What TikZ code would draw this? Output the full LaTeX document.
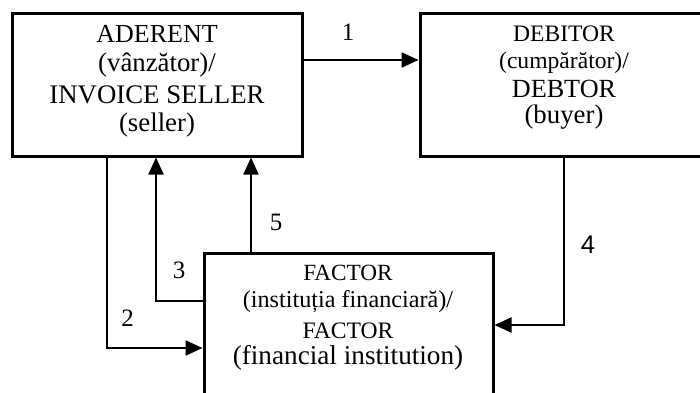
\documentclass[tikz,border=0pt]{standalone}
\usepackage{fontspec}
\setmainfont{Liberation Serif}
\newfontfamily\labelsans{Liberation Sans}
\usetikzlibrary{arrows.meta}
\begin{document}
\begin{tikzpicture}[x=0.5pt,y=-0.5pt,
  box/.style={draw, line width=1.5pt, rectangle, inner sep=0pt},
  link/.style={line width=1.15pt},
  arr/.style={link, -{Triangle[length=8.5pt,width=7.5pt]}},
  txt/.style={anchor=base, inner sep=0pt},
  big/.style={font=\fontsize{13.4}{16}\selectfont},
  mid/.style={font=\fontsize{11.8}{14}\selectfont},
  num/.style={inner sep=0pt, font=\fontsize{12.5}{15}\selectfont},
]
\useasboundingbox (0,0) rectangle (700,392);

% the three parties
\node[box, minimum width=145pt, minimum height=71.5pt] (ad) at (157,84.5) {};
\node[box, minimum width=145pt, minimum height=71.5pt] (deb) at (565,84.5) {};
\node[box, minimum width=144.5pt, minimum height=73.5pt] (fac) at (348.5,326.5) {};

% box captions
\node[txt, font=\fontsize{13}{16}\selectfont] (a1) at (157,42) {ADERENT};
\node[txt, big] (a2) at (157,71) {(vânzător)/};
\node[txt, big] (a3) at (157,103) {INVOICE SELLER};
\node[txt, big] (a4) at (157,131) {(seller)};

\node[txt, mid] (d1) at (564,41) {DEBITOR};
\node[txt, mid] (d2) at (564,68) {(cumpărător)/};
\node[txt, font=\fontsize{13.1}{16}\selectfont] (d3) at (564,97) {DEBTOR};
\node[txt, big] (d4) at (564,123) {(buyer)};

\node[txt, font=\fontsize{11.6}{14}\selectfont] (f1) at (348,280) {FACTOR};
\node[txt, font=\fontsize{12.1}{14}\selectfont] (f2) at (348,307) {(instituția financiară)/};
\node[txt, font=\fontsize{11.8}{14}\selectfont] (f3) at (348,338) {FACTOR};
\node[txt, font=\fontsize{13.6}{16}\selectfont] (f4) at (348,364) {(financial institution)};

% routing guides
\coordinate (r1) at (0,60);
\coordinate (r2) at (0,348);
\coordinate (r3) at (0,301);
\coordinate (r4) at (0,325);
\coordinate (c2) at (107,0);
\coordinate (c3) at (156,0);
\coordinate (c4) at (564,0);
\coordinate (c5) at (251,0);

% flows
\draw[arr] (ad.east |- r1) -- (deb.west |- r1);
\draw[arr] (ad.south -| c2) -- (c2 |- r2) -- (fac.west |- r2);
\draw[arr] (fac.west |- r3) -- (c3 |- r3) -- (ad.south -| c3);
\draw[arr] (deb.south -| c4) -- (c4 |- r4) -- (fac.east |- r4);
\draw[arr] (fac.north -| c5) -- (ad.south -| c5);

% step numbers
\node[num] (n1) at (348,32) {1};
\node[num] (n2) at (127.5,318) {2};
\node[num] (n3) at (179,270) {3};
\node[num, font=\labelsans\fontsize{12.8}{15}\selectfont] (n4) at (588,245) {4};
\node[num] (n5) at (276,222) {5};
\end{tikzpicture}
\end{document}
